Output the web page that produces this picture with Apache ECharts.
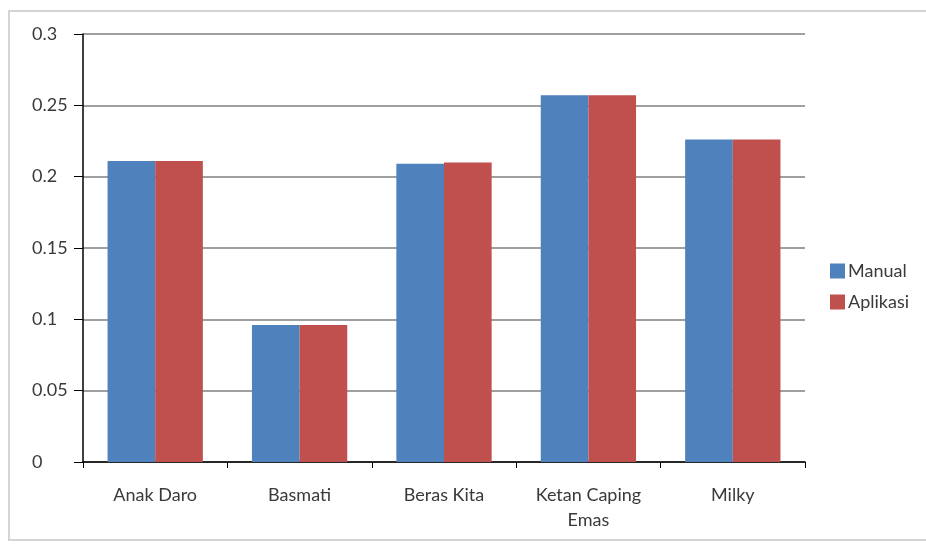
<!DOCTYPE html>
<html>
<head>
<meta charset="utf-8">
<script src="https://cdn.jsdelivr.net/npm/echarts@6/dist/echarts.min.js"></script>
<style>
  html, body { margin: 0; padding: 0; background: #fff; }
  #chart { width: 926px; height: 544px; }
</style>
</head>
<body>
<div id="chart"></div>
<script>
// kategori beras
var categories = ['Anak Daro', 'Basmati', 'Beras Kita', 'Ketan Caping\nEmas', 'Milky'];
var manual = [0.211, 0.096, 0.209, 0.257, 0.226];
var aplikasi = [0.211, 0.096, 0.210, 0.257, 0.226];
var yTicks = [0, 0.05, 0.1, 0.15, 0.2, 0.25, 0.3];

var font = 'Lato, "Open Sans", sans-serif';
var myChart = echarts.init(document.getElementById('chart'));

var option = {
  backgroundColor: '#fff',
  animation: false,
  graphic: [{
    type: 'rect',
    shape: { x: 9, y: 11, width: 930, height: 529 },
    style: { fill: 'none', stroke: '#d4d4d4', lineWidth: 2 },
    silent: true
  }],
  grid: { left: 83, right: 121, top: 34, bottom: 82 },
  legend: {
    orient: 'vertical',
    left: 825,
    top: 257,
    icon: 'rect',
    itemWidth: 15,
    itemHeight: 15,
    itemGap: 13,
    textStyle: { fontFamily: font, fontSize: 18, color: '#3a3a3a', padding: [0, 0, 0, -2] },
    data: ['Manual', 'Aplikasi']
  },
  xAxis: {
    type: 'category',
    data: categories,
    axisLine: { lineStyle: { color: '#000', width: 1.5 } },
    axisTick: { show: true, length: 6, lineStyle: { color: '#000' } },
    axisLabel: {
      margin: 21,
      fontFamily: font,
      fontSize: 18,
      color: '#3a3a3a',
      lineHeight: 25,
      interval: 0
    }
  },
  yAxis: {
    type: 'value',
    min: 0,
    max: 0.3,
    interval: 0.05,
    axisLine: { show: true, lineStyle: { color: '#000', width: 1.5 } },
    axisTick: { show: true, length: 9, lineStyle: { color: '#000' } },
    splitLine: { lineStyle: { color: '#7f7f7f', width: 1.5 } },
    axisLabel: {
      margin: 51,
      align: 'left',
      fontFamily: font,
      fontSize: 18,
      color: '#3a3a3a',
      formatter: function (v) {
        var t = yTicks.find(function (k) { return Math.abs(k - v) < 1e-9; });
        return String(t !== undefined ? t : v);
      }
    }
  },
  series: [{
    name: 'Manual',
    type: 'bar',
    data: manual,
    barGap: '0%',
    barCategoryGap: '34%',
    itemStyle: { color: '#4f81bd' }
  }, {
    name: 'Aplikasi',
    type: 'bar',
    data: aplikasi,
    itemStyle: { color: '#c0504d' }
  }]
};

myChart.setOption(option);
</script>
</body>
</html>
